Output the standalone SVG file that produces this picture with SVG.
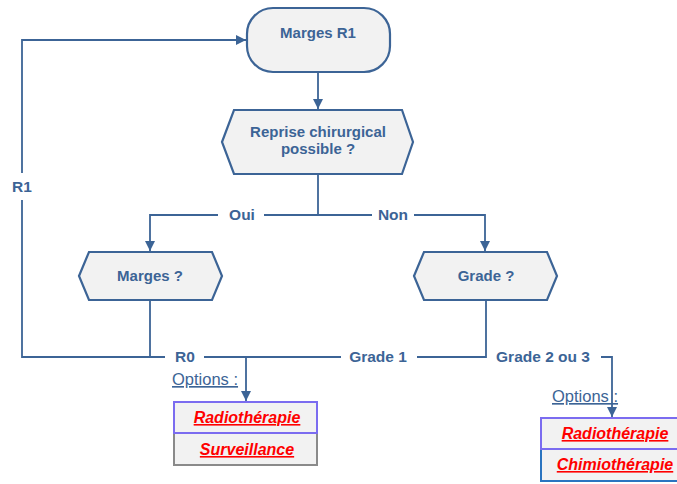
<svg xmlns="http://www.w3.org/2000/svg" width="677" height="484" viewBox="0 0 677 484">
<defs>
<style>
.node{fill:#f2f2f2;stroke:#3c6496;stroke-width:2.2}
.lbl{font-family:"Liberation Sans",Arial,sans-serif;font-weight:bold;font-size:15px;fill:#3c6496;text-anchor:middle}
.elbl{font-size:15.5px}
.edge{fill:none;stroke:#3c6496;stroke-width:1.8}
.opt{font-family:"Liberation Sans",Arial,sans-serif;font-size:16.5px;fill:#3c6496;text-decoration:underline}
.red{font-family:"Liberation Sans",Arial,sans-serif;font-weight:bold;font-style:italic;font-size:16px;fill:#ff0000;text-anchor:middle;text-decoration:underline}
.box{fill:#f2f2f2;stroke-width:2}
</style>
<marker id="arr" viewBox="0 0 10 10" refX="10" refY="5" markerWidth="10" markerHeight="10" markerUnits="userSpaceOnUse" orient="auto">
<path d="M0,0 L10,5 L0,10 z" fill="#3c6496"/>
</marker>
</defs>
<rect width="677" height="484" fill="#ffffff"/>
<g id="connectors">
<path class="edge" d="M318,72 V109" marker-end="url(#arr)"/>
<path class="edge" d="M318,174 V215"/>
<path class="edge" d="M218,215 H150 V251" marker-end="url(#arr)"/>
<path class="edge" d="M264,215 H372"/>
<path class="edge" d="M414,215 H485 V251" marker-end="url(#arr)"/>
<path class="edge" d="M150,300 V357"/>
<path class="edge" d="M165,357 H22 V200"/>
<path class="edge" d="M22,173 V40 H246" marker-end="url(#arr)"/>
<path class="edge" d="M204,357 H341"/>
<path class="edge" d="M246,357 V401" marker-end="url(#arr)"/>
<path class="edge" d="M417,357 H486 V300"/>
<path class="edge" d="M601,357 H612 V417" marker-end="url(#arr)"/>
<text class="lbl elbl" x="242" y="220">Oui</text>
<text class="lbl elbl" x="393" y="220">Non</text>
<text class="lbl elbl" x="22" y="192">R1</text>
<text class="lbl elbl" x="185" y="362">R0</text>
<text class="lbl elbl" x="378" y="362">Grade 1</text>
<text class="lbl elbl" x="543" y="362">Grade 2 ou 3</text>
</g>
<g id="n-marges-r1">
<rect class="node" x="247" y="8" width="143" height="64" rx="26" ry="26"/>
<text class="lbl" x="318" y="38">Marges R1</text>
</g>
<g id="n-reprise">
<polygon class="node" points="222,142 234,110 402,110 413,142 402,174 234,174"/>
<text class="lbl" x="318" y="137">Reprise chirurgical</text>
<text class="lbl" x="318" y="154">possible ?</text>
</g>
<g id="n-marges">
<polygon class="node" points="79,276 89,252 212,252 222,276 212,300 89,300"/>
<text class="lbl" x="150" y="281">Marges ?</text>
</g>
<g id="n-grade">
<polygon class="node" points="414,276 424,252 547,252 557,276 547,300 424,300"/>
<text class="lbl" x="486" y="281">Grade ?</text>
</g>
<g id="n-options-left">
<text class="opt" x="172" y="385">Options :</text>
<rect class="box" x="174" y="433" width="143" height="32" stroke="#8a8a8a"/>
<rect class="box" x="174" y="402" width="143" height="31" stroke="#7b6cf0"/>
<text class="red" x="247" y="423">Radiothérapie</text>
<text class="red" x="247" y="455">Surveillance</text>
</g>
<g id="n-options-right">
<text class="opt" x="552" y="402">Options :</text>
<rect class="box" x="541" y="449" width="150" height="32" stroke="#2a74c0"/>
<rect class="box" x="541" y="418" width="150" height="31" stroke="#7b6cf0"/>
<text class="red" x="615" y="439">Radiothérapie</text>
<text class="red" x="615" y="470">Chimiothérapie</text>
</g>
</svg>
